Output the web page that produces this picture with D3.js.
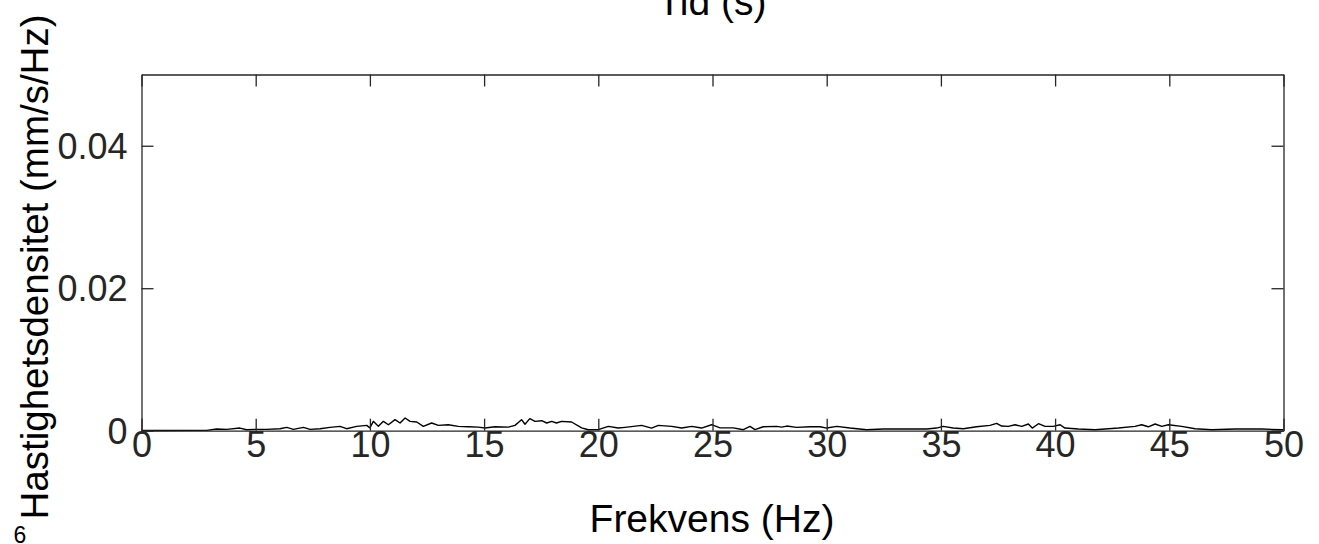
<!DOCTYPE html>
<html>
<head>
<meta charset="utf-8">
<script src="https://cdn.jsdelivr.net/npm/d3@7"></script>
<style>
  html, body { margin: 0; padding: 0; background: #fff; }
  svg { display: block; font-family: "Liberation Sans", Arial, sans-serif; }
</style>
</head>
<body>
<svg id="chart" width="1319" height="544"></svg>
<script>
// ---- data ----
const freqHz = [0, 1.0, 2.12, 2.85, 3.29, 3.73, 4.31, 4.6, 4.97, 5.48, 6.06, 6.36, 6.65, 7.09, 7.38, 7.82, 8.25, 8.69, 8.98, 9.42, 9.86, 10.0, 10.15, 10.37, 10.59, 10.81, 11.1, 11.32, 11.54, 11.76, 12.05, 12.34, 12.7, 13.0, 13.43, 13.87, 14.31, 14.74, 15.04, 15.47, 16.06, 16.35, 16.64, 16.79, 17.0, 17.23, 17.52, 17.74, 17.96, 18.17, 18.39, 18.83, 19.27, 19.56, 20.0, 20.44, 20.87, 21.17, 21.9, 22.33, 22.63, 23.21, 23.65, 24.09, 24.52, 24.96, 25.33, 25.91, 26.35, 26.64, 26.86, 27.22, 27.81, 28.03, 28.25, 28.68, 29.27, 29.71, 30.0, 30.44, 31.02, 31.75, 32.48, 33.35, 34.38, 34.81, 35.1, 35.54, 35.98, 36.56, 37.15, 37.44, 37.66, 37.95, 38.25, 38.54, 38.83, 39.0, 39.27, 39.56, 39.92, 40.22, 40.43, 41.02, 41.75, 42.77, 43.5, 43.79, 44.08, 44.38, 44.67, 44.96, 45.54, 46.13, 46.86, 47.88, 49.05, 49.92, 50];
const density = [0.00003, 0.00002, 0.00005, 0.00005, 0.00023, 0.00019, 0.00037, 0.00014, 0.00019, 0.00019, 0.00028, 0.00047, 0.00019, 0.00047, 0.00019, 0.00028, 0.00047, 0.00061, 0.00028, 0.00061, 0.00075, 0.0004, 0.00131, 0.00061, 0.00131, 0.00084, 0.00155, 0.00108, 0.00178, 0.00131, 0.00122, 0.00061, 0.00108, 0.00075, 0.00084, 0.00061, 0.00055, 0.0005, 0.00037, 0.00055, 0.0005, 0.00075, 0.00155, 0.0009, 0.00169, 0.00131, 0.0014, 0.00108, 0.00131, 0.00108, 0.00131, 0.00122, 0.0004, 0.00014, 0.00014, 0.00061, 0.00037, 0.00047, 0.00075, 0.00037, 0.00075, 0.00061, 0.00037, 0.00061, 0.00037, 0.00084, 0.0004, 0.0004, 0.00014, 0.00061, 0.00014, 0.00055, 0.00061, 0.0005, 0.00065, 0.00047, 0.00055, 0.00055, 0.00037, 0.00061, 0.00037, 0.00014, 0.00023, 0.00023, 0.00023, 0.00037, 0.00061, 0.00037, 0.00028, 0.00055, 0.00075, 0.00103, 0.00065, 0.00061, 0.00084, 0.00061, 0.00094, 0.00037, 0.00098, 0.00061, 0.00061, 0.00084, 0.00037, 0.00023, 0.00014, 0.00037, 0.00061, 0.00084, 0.00055, 0.00094, 0.00061, 0.00084, 0.00061, 0.00028, 0.00014, 0.00023, 0.00023, 0.00014, 0.00014];
const xTicks = [0, 5, 10, 15, 20, 25, 30, 35, 40, 45, 50];
const yTicks = [0, 0.02, 0.04];
const yTickLabels = ["0", "0.02", "0.04"];
const titleText = "Tid (s)";
const xLabelText = "Frekvens (Hz)";
const yLabelText = "Hastighetsdensitet (mm/s/Hz)";
const cornerText = "6";

// ---- layout ----
const m = { left: 141.5, right: 1283.5, top: 74.5, bottom: 430.7 };
const axisColor = "#262626";

const svg = d3.select("#chart");
const x = d3.scaleLinear().domain([0, 50]).range([m.left, m.right]);
const y = d3.scaleLinear().domain([0, 0.05]).range([m.bottom, m.top]);

// data line
const pts = freqHz.map((f, i) => [f, density[i]]);
svg.append("path")
  .datum(pts)
  .attr("fill", "none")
  .attr("stroke", "#000")
  .attr("stroke-width", 1.4)
  .attr("stroke-linejoin", "round")
  .attr("d", d3.line().x(d => x(d[0])).y(d => y(d[1])));

const tickLen = 12;
const fs = 36;

const gBottom = svg.append("g").attr("transform", `translate(0,${m.bottom})`)
  .call(d3.axisBottom(x).tickValues(xTicks).tickSizeInner(-tickLen).tickSizeOuter(0));
const gTop = svg.append("g").attr("transform", `translate(0,${m.top})`)
  .call(d3.axisTop(x).tickValues(xTicks).tickSizeInner(-tickLen).tickSizeOuter(0).tickFormat(""));
const gLeft = svg.append("g").attr("transform", `translate(${m.left},0)`)
  .call(d3.axisLeft(y).tickValues(yTicks).tickSizeInner(-tickLen).tickSizeOuter(0)
    .tickFormat((d, i) => yTickLabels[i]));
const gRight = svg.append("g").attr("transform", `translate(${m.right},0)`)
  .call(d3.axisRight(y).tickValues(yTicks).tickSizeInner(-tickLen).tickSizeOuter(0).tickFormat(""));

[gBottom, gTop, gLeft, gRight].forEach(g => {
  g.select(".domain").attr("stroke", axisColor).attr("stroke-width", 1.3);
  g.selectAll(".tick line").attr("stroke", axisColor).attr("stroke-width", 1.3);
  g.selectAll(".tick text").attr("fill", "#262626").style("font-size", fs + "px")
    .style("font-family", '"Liberation Sans", Arial, sans-serif');
});
gBottom.selectAll(".tick text").attr("y", 26).attr("dy", 0);
gLeft.selectAll(".tick text").attr("x", -14).attr("dy", "0.35em");

// title (cut off at top)
svg.append("text").attr("x", 712).attr("y", 15).attr("text-anchor", "middle")
  .attr("fill", "#000").style("font-size", "39px").text(titleText);

// x label
svg.append("text").attr("x", 712).attr("y", 532).attr("text-anchor", "middle")
  .attr("fill", "#000").style("font-size", "39px").text(xLabelText);

// y label
svg.append("text").attr("transform", `translate(48,267) rotate(-90)`)
  .attr("text-anchor", "middle").attr("fill", "#000").style("font-size", "38.5px").text(yLabelText);

// corner text
svg.append("text").attr("x", 20).attr("y", 543).attr("text-anchor", "middle")
  .attr("fill", "#000").style("font-size", "23px").text(cornerText);
</script>
</body>
</html>
